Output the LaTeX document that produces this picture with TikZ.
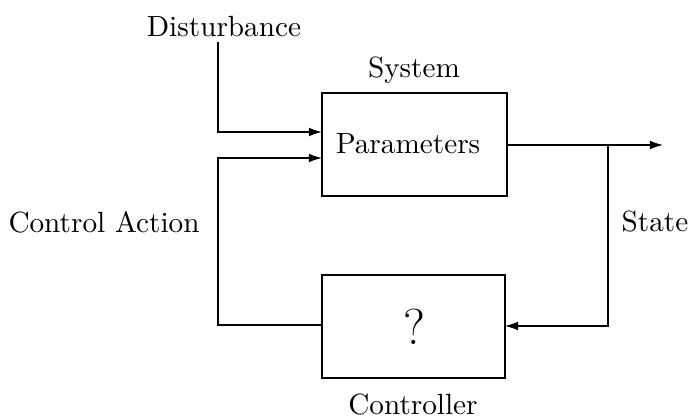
\documentclass[tikz,border=0pt]{standalone}
\usetikzlibrary{arrows.meta}
\begin{document}
\begin{tikzpicture}[x=0.342pt,y=-0.342pt,
  blk/.style={draw,line width=0.35pt,inner sep=0pt},
  conn/.style={line width=0.4pt},
  arr/.style={conn,-{Latex[length=4.5pt,width=3pt]}}]
\useasboundingbox (0,0) rectangle (691,418);
\node[blk,minimum width=185*0.342pt,minimum height=103*0.342pt] (sys) at (414.5,144.5) {};
\node[blk,minimum width=183*0.342pt,minimum height=103*0.342pt] (ctl) at (413.5,326.5) {};
\node (par) at (408,144) {Parameters};
\node at (414,327) {\LARGE ?};
\node (systxt) at (414,70) {System};
\node (ctltxt) at (413,405) {Controller};
\node (dist) at (224,27) {Disturbance};
\node (ca) at (104,222) {Control Action};
\node (st) at (655,222) {State};
\coordinate (d0) at (218,42);
\coordinate (d1) at (218,132);
\coordinate (din) at (322,132);
\coordinate (c0) at (322,325);
\coordinate (c1) at (218,325);
\coordinate (c2) at (218,158);
\coordinate (cin) at (322,158);
\coordinate (o0) at (507,145);
\coordinate (o1) at (663,145);
\coordinate (b0) at (608,145);
\coordinate (b1) at (608,326);
\coordinate (bin) at (505,326);
\draw[arr] (d0) -- (d1) -- (din);
\draw[arr] (c0) -- (c1) -- (c2) -- (cin);
\draw[arr] (o0) -- (o1);
\draw[arr] (b0) -- (b1) -- (bin);
\end{tikzpicture}
\end{document}
